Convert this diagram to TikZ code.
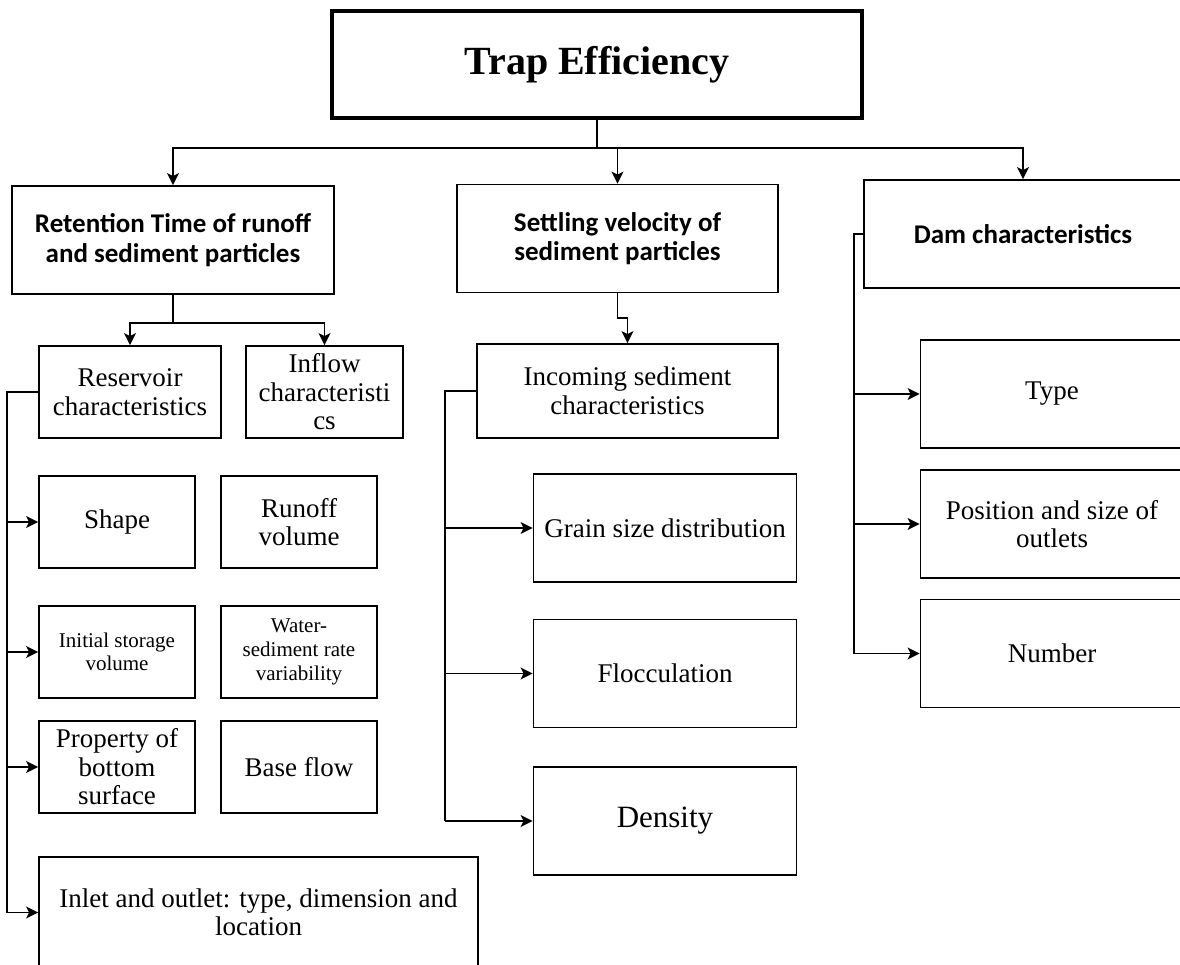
\documentclass[tikz,border=0pt]{standalone}
\usepackage{fontspec}
\setmainfont{Liberation Serif}
\newfontfamily\calibri{Carlito}
\usetikzlibrary{arrows.meta}

\begin{document}
\begin{tikzpicture}[x=1pt,y=-1pt,->,>={Stealth[length=12pt,width=12pt,inset=3pt]},line width=1.8pt,
  title node/.style={rectangle,draw,line width=3.4pt,
    font=\fontsize{40}{42}\selectfont\bfseries,minimum width=530pt,minimum height=107pt},
  head node/.style={rectangle,draw,align=center,inner sep=1pt,
    font=\calibri\fontsize{27}{29.5}\selectfont\bfseries,minimum height=108pt},
  leaf node/.style={rectangle,draw,align=center,inner sep=1pt,
    font=\fontsize{27}{28.5}\selectfont,minimum width=156pt,minimum height=92pt},
  big node/.style={leaf node,minimum width=263pt,minimum height=108pt}]

  \clip (0,0) rectangle (1180,965);

  \node[title node] (TE) at (597,64.5) {Trap Efficiency};

  \node[head node, minimum width=322pt] (RT) at (173,240) {Retention Time of runoff\\and sediment particles};
  \node[head node, minimum width=321pt] (SV) at (617.5,238.5) {Settling velocity of\\sediment particles};
  \node[head node, minimum width=318pt] (DC) at (1023,234) {Dam characteristics};

  % retention time branch
  \node[leaf node, minimum width=182pt] (RC) at (130,392) {Reservoir\\characteristics};
  \node[leaf node, minimum width=157pt] (IC) at (324.5,392) {Inflow\\characteristi\\cs};
  \node[leaf node] (SH) at (117,522) {Shape};
  \node[leaf node] (RV) at (299,522) {Runoff\\volume};
  \node[leaf node, font=\fontsize{21}{23.5}\selectfont] (IV) at (117,652) {Initial storage\\volume};
  \node[leaf node, font=\fontsize{21}{24}\selectfont] (WS) at (299,652) {Water-\\sediment rate\\variability};
  \node[leaf node] (PB) at (117,767) {Property of\\bottom\\surface};
  \node[leaf node] (BF) at (299,767) {Base flow};
  \node[leaf node, minimum width=439pt, minimum height=111pt] (IO) at (258.5,912.5) {Inlet and outlet: type, dimension and\\location};

  % settling velocity branch
  \node[leaf node, minimum width=301pt, minimum height=94pt] (IN) at (627.5,391) {Incoming sediment\\characteristics};
  \node[big node] (GS) at (665,528) {Grain size distribution};
  \node[big node] (FL) at (665,673.5) {Flocculation};
  \node[big node, font=\fontsize{31}{33}\selectfont] (DE) at (665,821) {Density};

  % dam branch
  \node[big node] (TY) at (1052,394) {Type};
  \node[big node] (PO) at (1052,524) {Position and size of\\outlets};
  \node[big node] (NU) at (1052,653.5) {Number};

  \draw[-] (TE.south) -- ++(0,28) coordinate (topbus);
  \draw (topbus) -| (RT.north);
  \draw (topbus) -| (SV.north);
  \draw (topbus) -| (DC.north);

  \draw[-] (RT.south) -- ++(0,28) coordinate (rtbus);
  \draw (rtbus) -| (RC.north);
  \draw (rtbus) -| (IC.north);

  \draw (SV.south) -- ++(0,25) -| (IN.north);

  \coordinate (L) at ([xshift=-31pt]RC.west);
  \coordinate (M) at ([xshift=-31pt]IN.west);
  \coordinate (R) at ([xshift=-9pt]DC.west);

  \draw[-] (RC.west) -- (L) -- (L |- IO.west);
  \foreach \n in {SH,IV,PB,IO}
    \draw (L |- \n.west) -- (\n.west);

  \draw[-] (IN.west) -- (M) -- (M |- DE.west);
  \foreach \n in {GS,FL,DE}
    \draw (M |- \n.west) -- (\n.west);

  \draw[-] (DC.west) -- (R) -- (R |- NU.west);
  \foreach \n in {TY,PO,NU}
    \draw (R |- \n.west) -- (\n.west);
\end{tikzpicture}
\end{document}
